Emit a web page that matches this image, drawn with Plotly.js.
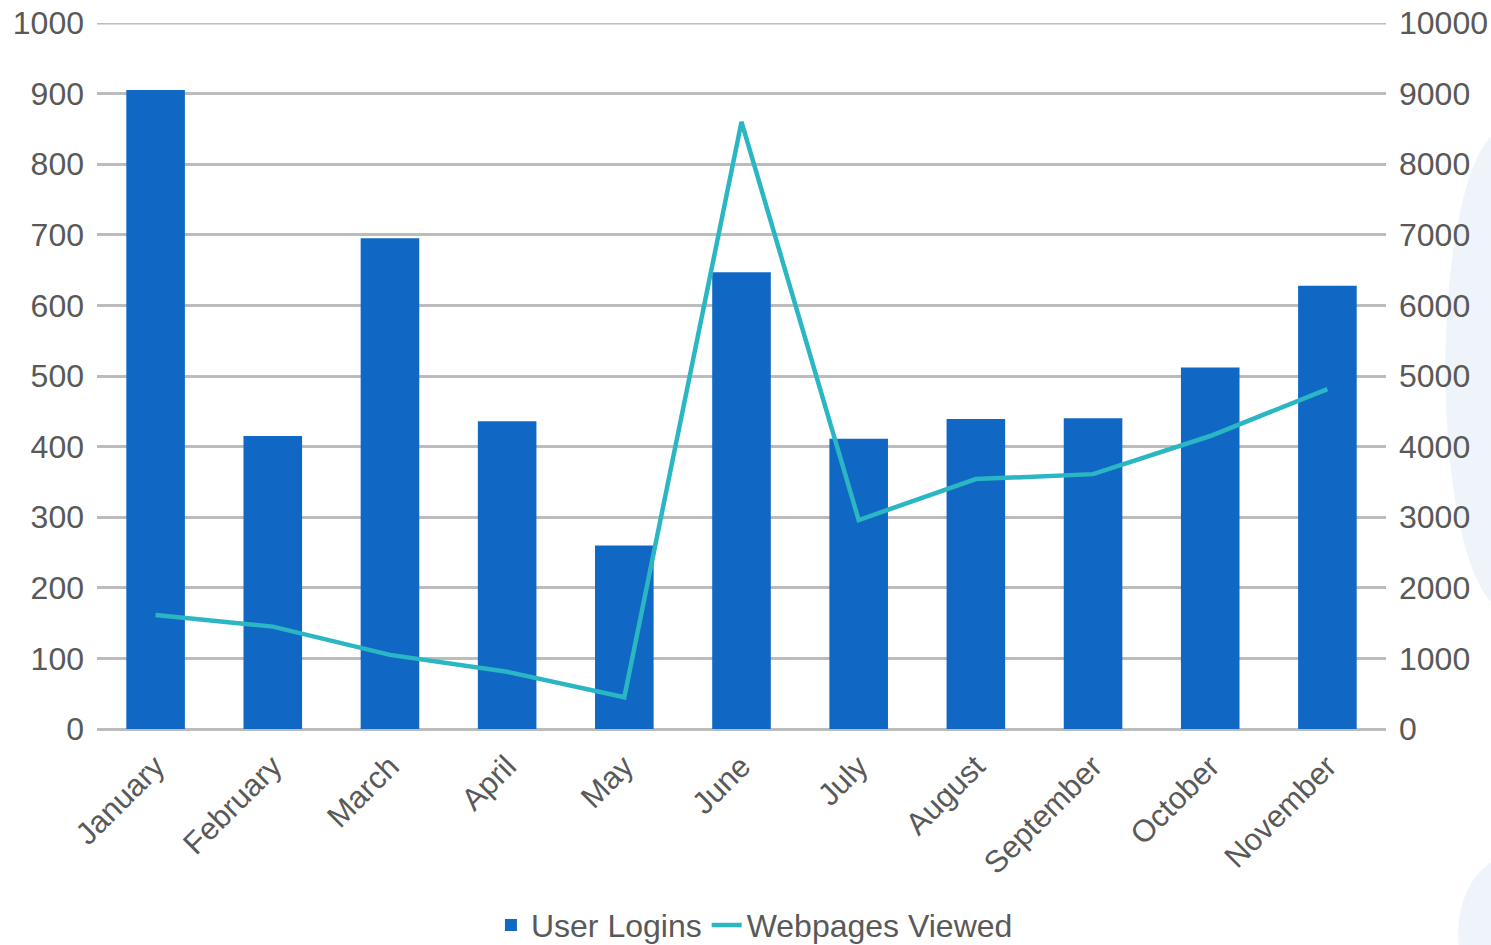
<!DOCTYPE html>
<html>
<head>
<meta charset="utf-8">
<script src="https://cdn.plot.ly/plotly-3.0.1.min.js"></script>
<style>
html,body{margin:0;padding:0;background:#fff;}
#chart{width:1491px;height:945px;}
</style>
</head>
<body>
<div id="chart"></div>
<script>
const months = ["January","February","March","April","May","June","July","August","September","October","November"];
const userLogins = [905, 415, 695, 436, 260, 647, 411, 439, 440, 512, 628];
const webpagesViewed = [1615, 1450, 1050, 810, 450, 8600, 2960, 3540, 3610, 4150, 4815];
const leftTicks = [0,100,200,300,400,500,600,700,800,900,1000];
const rightTicks = [0,1000,2000,3000,4000,5000,6000,7000,8000,9000,10000];

const textColor = "#595959";
const fam = "Liberation Sans, Arial, sans-serif";
const gridColor = "#bcbcbc";

const data = [
  {
    type: "bar", name: "User Logins", x: months, y: userLogins,
    marker: {color: "#1068c4"}, yaxis: "y"
  },
  {
    type: "scatter", mode: "lines", name: "Webpages Viewed", x: months, y: webpagesViewed,
    line: {color: "#2ab6c2", width: 4.5}, yaxis: "y2"
  }
];

const layout = {
  width: 1491, height: 945,
  margin: {l: 97, r: 105, t: 23, b: 216},
  paper_bgcolor: "#fff", plot_bgcolor: "rgba(0,0,0,0)",
  font: {family: fam, size: 32, color: textColor},
  bargap: 0.5,
  showlegend: true,
  legend: {orientation: "h", xref: "container", yref: "container", x: 0.506, xanchor: "center", y: 0.021, yanchor: "middle",
           font: {family: fam, size: 32, color: textColor}, tracegroupgap: 0, bgcolor: "rgba(0,0,0,0)"},
  xaxis: {
    automargin: false,
    tickangle: -45, showgrid: false, zeroline: false, showline: false,
    tickfont: {family: fam, size: 31, color: textColor}, ticks: "", ticklabelstandoff: 12
  },
  yaxis: {
    automargin: false,
    range: [0, 1000], tickvals: leftTicks, ticktext: leftTicks.map(String),
    showgrid: true, gridcolor: gridColor, gridwidth: 3, zeroline: true, zerolinecolor: gridColor, zerolinewidth: 3,
    tickfont: {family: fam, size: 32, color: textColor}, ticks: "", ticklabelstandoff: 12
  },
  yaxis2: {
    automargin: false,
    range: [0, 10000], tickvals: rightTicks, ticktext: rightTicks.map(String),
    overlaying: "y", side: "right", showgrid: false, zeroline: false,
    tickfont: {family: fam, size: 32, color: textColor}, ticks: "", ticklabelstandoff: 12
  },
  shapes: [
    {type: "line", xref: "paper", yref: "y", x0: 0, x1: 1, y0: 1000, y1: 1000,
     line: {color: gridColor, width: 3}, layer: "below"},
    {type: "circle", xref: "paper", yref: "paper", x0: 1.046, x1: 1.14, y0: 0.17, y1: 0.85,
     fillcolor: "#eff3fa", line: {width: 0}, layer: "below"},
    {type: "circle", xref: "paper", yref: "paper", x0: 1.056, x1: 1.14, y0: -0.40, y1: -0.18,
     fillcolor: "#eff3fa", line: {width: 0}, layer: "below"}
  ]
};

Plotly.newPlot("chart", data, layout, {displayModeBar: false, staticPlot: true});
</script>
</body>
</html>
